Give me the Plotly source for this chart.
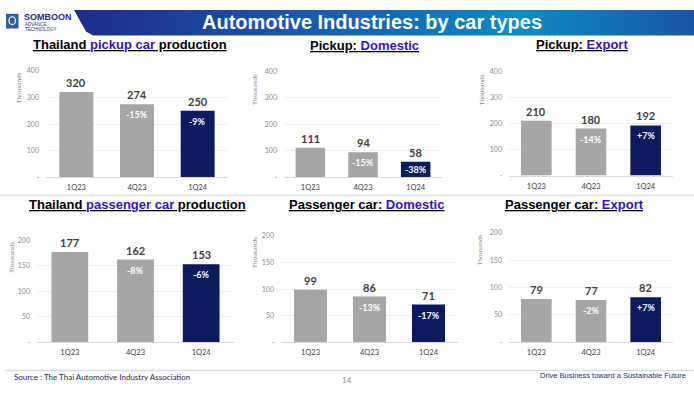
import plotly.graph_objects as go

W, H = 694, 398

categories = ["1Q23", "4Q23", "1Q24"]

titles_black = ["Thailand ", "Pickup: ", "Pickup: ", "Thailand ", "Passenger car: ", "Passenger car: "]
titles_color = ["pickup car", "Domestic", "Export", "passenger car", "Domestic", "Export"]
titles_tail = [" production", "", "", " production", "", ""]

pickup_total = [320, 274, 250]
pickup_domestic = [111, 94, 58]
pickup_export = [210, 180, 192]
passenger_total = [177, 162, 153]
passenger_domestic = [99, 86, 71]
passenger_export = [79, 77, 82]

pickup_total_pct = ["", "-15%", "-9%"]
pickup_domestic_pct = ["", "-15%", "-38%"]
pickup_export_pct = ["", "-14%", "+7%"]
passenger_total_pct = ["", "-8%", "-6%"]
passenger_domestic_pct = ["", "-13%", "-17%"]
passenger_export_pct = ["", "-2%", "+7%"]

series = [pickup_total, pickup_domestic, pickup_export,
          passenger_total, passenger_domestic, passenger_export]
pcts = [pickup_total_pct, pickup_domestic_pct, pickup_export_pct,
        passenger_total_pct, passenger_domestic_pct, passenger_export_pct]

y_max = [400, 400, 400, 200, 200, 200]
tick_vals_400 = [0, 100, 200, 300, 400]
tick_vals_200 = [0, 50, 100, 150, 200]

# layout in pixels: (x0, x1, ytop, ybottom, title_cx, title_cy, thous_x, thous_y)
panels = [
    (46, 228, 67, 176, 130, 40.5, 18, 85),
    (284, 442, 67.7, 175.7, 364, 41, 255, 86.7),
    (509, 673, 67.5, 174, 582, 40.5, 481, 86),
    (37, 234, 240, 344.3, 137.5, 203.5, 12, 258),
    (281, 458, 235.7, 344.3, 366, 203.5, 255, 253),
    (509, 673, 232.7, 344, 574, 204, 479, 250.5),
]

GRAY = "#A6A6A6"
NAVY = "#0C1A5E"
LINK = "#3A10C8"

def px(x):
    return x / W

def py(y):
    return 1 - y / H

fig = go.Figure()
annotations = []
layout = dict()

for i, (vals, pc) in enumerate(zip(series, pcts), start=1):
    x0, x1, yt, yb, tcx, tcy, thx, thy = panels[i - 1]
    xa = "x" if i == 1 else f"x{i}"
    ya = "y" if i == 1 else f"y{i}"
    fig.add_trace(go.Bar(
        x=categories, y=vals, xaxis=xa, yaxis=ya,
        marker=dict(color=[GRAY, GRAY, NAVY], line=dict(width=0)),
        width=0.56, showlegend=False, hoverinfo="skip",
    ))
    tv = tick_vals_400 if y_max[i - 1] == 400 else tick_vals_200
    tt = ["-"] + [str(v) for v in tv[1:]]
    layout[f"xaxis{'' if i == 1 else i}"] = dict(
        domain=[px(x0), px(x1)], anchor=ya, type="category",
        showline=True, linecolor="#D9D9D9", linewidth=1,
        ticks="", showgrid=False, zeroline=False,
        tickfont=dict(family="Lato, sans-serif", size=7.5, color="#404040"),
        ticklabelstandoff=3, fixedrange=True,
    )
    layout[f"yaxis{'' if i == 1 else i}"] = dict(
        domain=[py(yb), py(yt)], anchor=xa, range=[0, y_max[i - 1]],
        tickvals=tv, ticktext=tt, showline=False, zeroline=False,
        showgrid=True, gridcolor="#F0F0F0", gridwidth=1, ticks="",
        tickfont=dict(family="Lato, sans-serif", size=7, color="#8C8C8C"),
        ticklabelstandoff=6, fixedrange=True,
    )
    plot_h = yb - yt
    for c, v, p in zip(categories, vals, pc):
        annotations.append(dict(
            x=c, y=v, xref=xa, yref=ya, text=f"<b>{v}</b>", showarrow=False,
            yanchor="bottom", yshift=1,
            font=dict(family="Lato, sans-serif", size=11, color="#404040"),
        ))
        if p:
            bar_px = v / y_max[i - 1] * plot_h
            if bar_px < 24:
                pos = dict(y=v / 2, yanchor="middle", yshift=0)
            else:
                pos = dict(y=v, yanchor="top", yshift=-3)
            annotations.append(dict(
                x=c, xref=xa, yref=ya, text=f"<b>{p}</b>", showarrow=False,
                font=dict(family="Lato, sans-serif", size=9, color="#FFFFFF"),
                **pos,
            ))
    # subplot title
    t = (f"<u><b>{titles_black[i-1]}<span style='color:{LINK}'>{titles_color[i-1]}</span>"
         f"{titles_tail[i-1]}</b></u>")
    annotations.append(dict(
        x=px(tcx), y=py(tcy), xref="paper", yref="paper", text=t, showarrow=False,
        xanchor="center", yanchor="middle",
        font=dict(family="Liberation Sans, Arial, sans-serif", size=13, color="#000000"),
    ))
    annotations.append(dict(
        x=px(thx), y=py(thy), xref="paper", yref="paper", text="Thousands",
        showarrow=False, textangle=-90, xanchor="center", yanchor="middle",
        font=dict(family="Lato, sans-serif", size=6.5, color="#8C8C8C"),
    ))

# header band with gradient, on an overlay axis in pixel units
band_x = [74, 694, 694, 93, 86, 81, 74]
band_y = [5, 5, 31, 31, 27, 18, 5]
fig.add_trace(go.Scatter(
    x=band_x, y=band_y, xaxis="x7", yaxis="y7", mode="lines",
    line=dict(width=0), fill="toself",
    fillgradient=dict(type="horizontal", colorscale=[
        [0.0, "#1C2C88"], [0.3, "#1D4FA6"], [0.55, "#1270B6"],
        [0.72, "#0C8CC0"], [1.0, "#1A55A8"]]),
    showlegend=False, hoverinfo="skip",
))
layout["xaxis7"] = dict(domain=[0, 1], range=[0, W], visible=False, anchor="y7", fixedrange=True)
layout["yaxis7"] = dict(domain=[0, 1], range=[H, 0], visible=False, anchor="x7", fixedrange=True)

annotations.append(dict(
    x=px(372), y=py(17.5), xref="paper", yref="paper",
    text="<b>Automotive Industries: by car types</b>", showarrow=False,
    xanchor="center", yanchor="middle",
    font=dict(family="Liberation Sans, Arial, sans-serif", size=20, color="#FFFFFF"),
))

# logo
shapes = [
    dict(type="rect", xref="paper", yref="paper", x0=px(6), x1=px(18.5), y0=py(24), y1=py(9),
         fillcolor="#2D5FA8", line=dict(width=0)),
    dict(type="circle", xref="paper", yref="paper", x0=px(9), x1=px(15.5), y0=py(20), y1=py(12),
         fillcolor="rgba(0,0,0,0)", line=dict(color="#FFFFFF", width=1.2)),
    # divider between rows
    dict(type="line", xref="paper", yref="paper", x0=0, x1=1, y0=py(194.5), y1=py(194.5),
         line=dict(color="#E3E3E3", width=2)),
    # footer line
    dict(type="line", xref="paper", yref="paper", x0=px(5), x1=1, y0=py(373), y1=py(373),
         line=dict(color="#D5DCE4", width=1.5)),
]
annotations += [
    dict(x=px(22), y=py(12.5), xref="paper", yref="paper", text="<b>SOMBOON</b>",
         showarrow=False, xanchor="left", yanchor="middle",
         font=dict(family="Liberation Sans, Arial, sans-serif", size=9, color="#1E2F78")),
    dict(x=px(22.5), y=py(19.5), xref="paper", yref="paper", text="ADVANCE",
         showarrow=False, xanchor="left", yanchor="middle",
         font=dict(family="Liberation Sans, Arial, sans-serif", size=4.5, color="#1E2F78")),
    dict(x=px(22.5), y=py(24.5), xref="paper", yref="paper", text="TECHNOLOGY",
         showarrow=False, xanchor="left", yanchor="middle",
         font=dict(family="Liberation Sans, Arial, sans-serif", size=4.5, color="#1E2F78")),
    # footer
    dict(x=px(12), y=py(380), xref="paper", yref="paper",
         text="Source : The Thai Automotive Industry Association",
         showarrow=False, xanchor="left", yanchor="middle",
         font=dict(family="Lato, sans-serif", size=8, color="#1E2A4A")),
    dict(x=px(347), y=py(383), xref="paper", yref="paper", text="14",
         showarrow=False, xanchor="center", yanchor="middle",
         font=dict(family="Lato, sans-serif", size=8, color="#8C8C8C")),
    dict(x=px(688), y=py(378.5), xref="paper", yref="paper",
         text="Drive Business toward a Sustainable Future",
         showarrow=False, xanchor="right", yanchor="middle",
         font=dict(family="Liberation Sans, Arial, sans-serif", size=7.5, color="#1E2F6E")),
]

fig.update_layout(
    width=W, height=H, margin=dict(l=0, r=0, t=0, b=0),
    paper_bgcolor="#FFFFFF", plot_bgcolor="rgba(0,0,0,0)",
    bargap=0.44, annotations=annotations, shapes=shapes,
    **layout,
)

fig.write_html(
    "out.html",
    config={"displayModeBar": False},
    post_script="document.body.style.margin='0';document.body.style.padding='0';"
                "document.body.style.overflow='hidden';",
)
